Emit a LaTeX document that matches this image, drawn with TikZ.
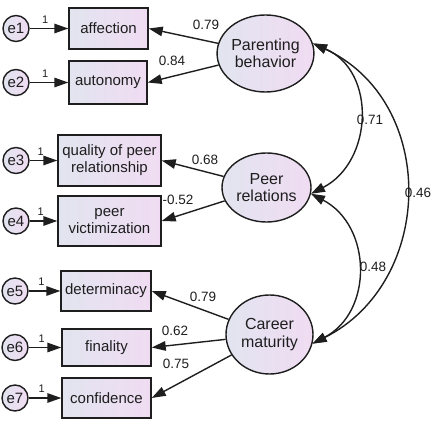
\documentclass[tikz,border=0pt]{standalone}
\usepackage{fontspec}
\setmainfont{Liberation Sans}
\usetikzlibrary{arrows.meta,shapes.geometric}
\definecolor{fillL}{RGB}{226,228,240}
\definecolor{fillR}{RGB}{240,220,242}
\definecolor{ink}{RGB}{30,30,30}
\begin{document}
\begin{tikzpicture}[x=1pt,y=-1pt,
  obs/.style={draw=ink,line width=1.4pt,rectangle,left color=fillL,right color=fillR,inner sep=0pt,align=center,text=ink,font=\fontsize{15}{17}\selectfont},
  lat/.style={draw=ink,line width=1.4pt,ellipse,left color=fillL,right color=fillR,inner sep=0pt,align=center,text=ink,font=\fontsize{16}{17.5}\selectfont},
  err/.style={draw=ink,line width=1.4pt,circle,minimum size=26pt,inner sep=0pt,left color=fillL,right color=fillR,text=ink,font=\fontsize{15}{16}\selectfont},
  load/.style={draw=ink,line width=1.4pt,-{Triangle[length=14pt,width=9.5pt]}},
  cov/.style={draw=ink,line width=1.4pt,{Triangle[length=14pt,width=9.5pt]}-{Triangle[length=14pt,width=9.5pt]}},
  lab/.style={font=\fontsize{13.5}{15}\selectfont,text=ink,inner sep=0pt},
  one/.style={font=\fontsize{11}{12}\selectfont,text=ink}]
\useasboundingbox (0,0) rectangle (436,425);
% observed
\node[obs,minimum width=79pt,minimum height=41pt] (aff) at (108.5,28.5) {affection};
\node[obs,minimum width=78pt,minimum height=43pt] (aut) at (108,82.5) {autonomy};
\node[obs,minimum width=103pt,minimum height=51pt] (qpr) at (109.5,160.5) {quality of peer\\relationship};
\node[obs,minimum width=103pt,minimum height=50pt] (pv) at (109.5,221) {peer\\victimization};
\node[obs,minimum width=90pt,minimum height=40pt] (det) at (106,291) {determinacy};
\node[obs,minimum width=89pt,minimum height=37pt] (fin) at (106.5,347.5) {finality};
\node[obs,minimum width=89pt,minimum height=40pt] (conf) at (106.5,398) {confidence};
% errors
\node[err] (e1) at (16,28.5) {e1};
\node[err] (e2) at (16,82.5) {e2};
\node[err] (e3) at (16,160.5) {e3};
\node[err] (e4) at (16,221) {e4};
\node[err] (e5) at (15,291) {e5};
\node[err] (e6) at (15,347.5) {e6};
\node[err] (e7) at (15,398) {e7};
% latent
\node[lat,minimum width=83pt,minimum height=77pt] (pb) at (265.5,53.5) {Parenting\\behavior};
\node[lat,minimum width=89pt,minimum height=69pt] (pr) at (266.5,187.5) {Peer\\relations};
\node[lat,minimum width=87pt,minimum height=79pt] (cm) at (269.5,334.5) {Career\\maturity};
% error paths
\draw[load] (e1) -- node[one,pos=0.4,above=1pt]{1} (aff);
\draw[load] (e2) -- node[one,pos=0.4,above=1pt]{1} (aut);
\draw[load] (e3) -- node[one,pos=0.4,above=1pt]{1} (qpr);
\draw[load] (e4) -- node[one,pos=0.4,above=1pt]{1} (pv);
\draw[load] (e5) -- node[one,pos=0.4,above=1pt]{1} (det);
\draw[load] (e6) -- node[one,pos=0.4,above=1pt]{1} (fin);
\draw[load] (e7) -- node[one,pos=0.4,above=1pt]{1} (conf);
% loadings
\draw[load] (pb) -- (aff.east);
\draw[load] (pb) -- (aut.east);
\draw[load] (pr) -- (qpr.east);
\draw[load] (pr) -- (pv.east);
\draw[load] (cm) -- (det.east);
\draw[load] (cm) -- (fin.east);
\draw[load] (cm) -- (conf.east);
\node[lab] (l1) at (206,25) {0.79};
\node[lab] (l2) at (172,61) {0.84};
\node[lab] (l3) at (205,160) {0.68};
\node[lab] (l4) at (178,200) {-0.52};
\node[lab] (l5) at (203,297) {0.79};
\node[lab] (l6) at (175,331) {0.62};
\node[lab] (l7) at (176,364) {0.75};
% covariances
\draw[cov] (pb.12) .. controls +(64,28) and +(62,-32) .. (pr.-8);
\draw[cov] (pr.-8) .. controls +(61,32) and +(61,-32) .. (cm.-12);
\draw[cov] (pb.12) .. controls +(125,58) and +(123,-62) .. (cm.-12);
\node[lab] (c1) at (370,120) {0.71};
\node[lab] (c2) at (418,193) {0.46};
\node[lab] (c3) at (373,267) {0.48};
\end{tikzpicture}
\end{document}
